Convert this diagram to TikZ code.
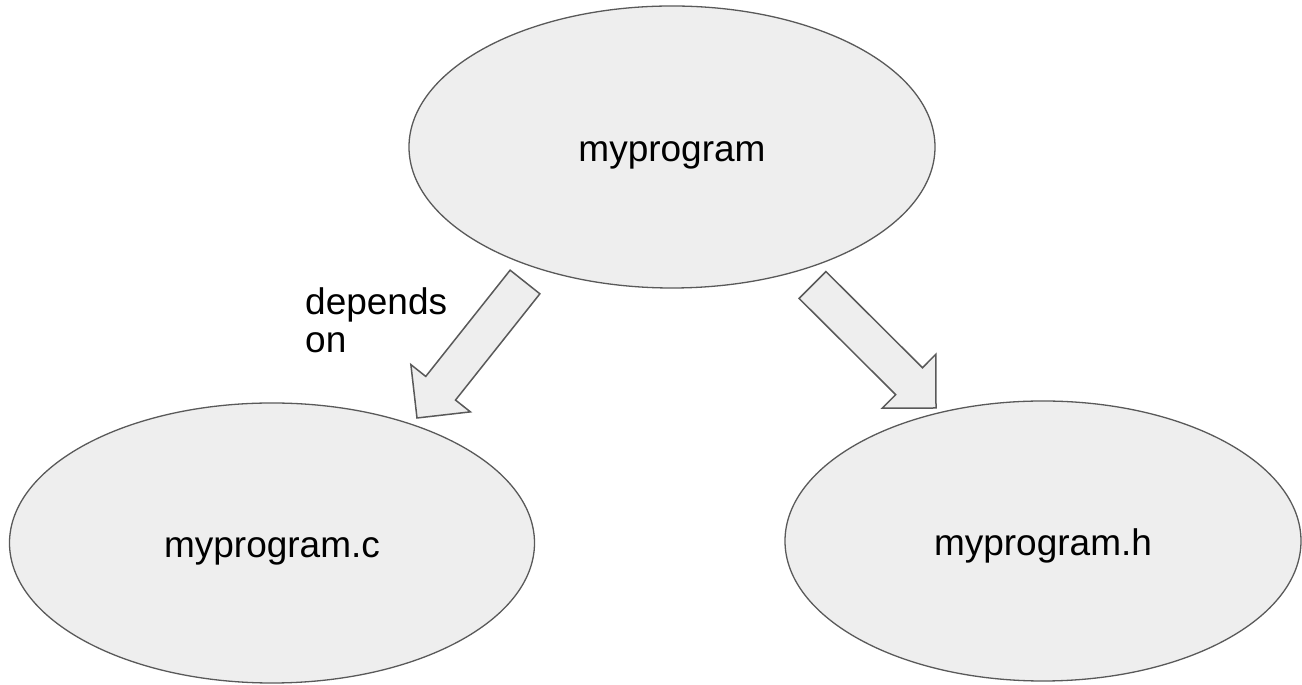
\documentclass[tikz,border=0pt]{standalone}
\usepackage{fontspec}
\setmainfont{Liberation Sans}
\usetikzlibrary{shapes.geometric,calc}
\definecolor{shapefill}{HTML}{EEEEEE}
\definecolor{shapeline}{HTML}{595959}
\tikzset{
  bubble/.style={ellipse, draw=shapeline, fill=shapefill, line width=1.3pt,
    inner sep=0pt, text height=30pt, text depth=0pt,
    font=\fontsize{37}{44}\selectfont},
  blockarrow/.style={draw=shapeline, fill=shapefill, line width=1.5pt, line join=miter},
  lbl/.style={font=\fontsize{37}{38}\selectfont, align=left, inner sep=0pt}
}
\newcommand{\blockarrowdraw}[3]{%
  % #1 tail centre, #2 tip, #3 base point name
  \coordinate (#3) at ($(#2)!38pt!(#1)$);
  \draw[blockarrow]
    ($(#1)!19pt!90:(#2)$) -- ($(#3)!19pt!90:(#2)$) -- ($(#3)!38pt!90:(#2)$)
    -- (#2) -- ($(#3)!38pt!-90:(#2)$) -- ($(#3)!19pt!-90:(#2)$)
    -- ($(#1)!19pt!-90:(#2)$) -- cycle;}
\begin{document}
\begin{tikzpicture}[x=1pt,y=1pt]
\useasboundingbox (0,0) rectangle (1302,685);
\node[bubble, minimum width=526pt, minimum height=282pt] (prog) at (672,538) {myprogram};
\node[bubble, minimum width=525pt, minimum height=280pt] (progc) at (272,142) {myprogram.c};
\node[bubble, minimum width=516pt, minimum height=280pt] (progh) at (1043,144) {myprogram.h};
\coordinate (lt) at (525,403);
\coordinate (lh) at (417,267);
\coordinate (rt) at (812.5,400);
\coordinate (rh) at (936,277);
\blockarrowdraw{lt}{lh}{lb}
\blockarrowdraw{rt}{rh}{rb}
\node[lbl, anchor=north west] (dep) at (305,398) {depends\\on};
\end{tikzpicture}
\end{document}
